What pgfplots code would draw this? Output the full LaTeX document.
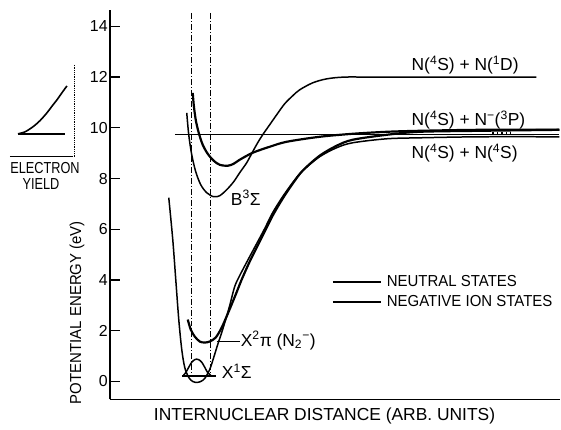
\documentclass[border=0pt]{standalone}
\usepackage{fontspec}
\setmainfont{Liberation Sans}
\newfontfamily\narrow{Liberation Sans}[FakeStretch=0.94]
\newfontfamily\condfont{Liberation Sans}[FakeStretch=0.80]
\usepackage{pgfplots}
\pgfplotsset{compat=1.18}

% Potential energy curves, x in arbitrary units, y in eV
\pgfplotstableread{
x y
169 7.244
173 5.591
176 4.016
179 2.441
182 1.260
185 0.551
189 0.157
193 0.000
197 -0.039
201 0.000
205 0.118
210 0.472
214 0.945
218 1.457
222 1.929
226 2.441
230 2.992
235 3.740
240 4.173
250 4.921
257 5.433
265 6.024
273 6.654
283 7.283
293 7.835
303 8.307
320 8.858
337 9.213
353 9.409
387 9.567
420 9.606
480 9.646
560 9.646
}\groundX

\pgfplotstableread{
x y
188 2.441
191 2.047
195 1.772
200 1.575
205 1.535
210 1.575
216 1.732
222 2.126
229 2.756
236 3.425
242 4.016
250 4.724
257 5.276
265 5.906
273 6.535
283 7.205
293 7.795
303 8.307
320 8.898
337 9.291
353 9.528
387 9.724
420 9.843
480 9.882
560 9.921
}\anionX

\pgfplotstableread{
x y
187 10.591
189 9.724
192 8.937
196 8.268
201 7.756
207 7.441
214 7.283
220 7.323
227 7.559
234 7.874
240 8.228
247 8.622
253 9.055
258 9.409
263 9.724
270 10.118
277 10.512
285 10.945
293 11.260
300 11.496
313 11.772
327 11.929
345 12.000
380 12.000
537 12.000
}\stateB

\pgfplotstableread{
x y
193 11.378
194 10.906
196 10.315
199 9.803
203 9.331
208 8.976
214 8.701
220 8.543
228 8.504
234 8.583
240 8.740
253 9.016
270 9.252
287 9.449
320 9.646
353 9.764
387 9.843
420 9.882
480 9.921
560 9.921
}\resonance

\pgfplotstableread{
x y
183 0.21
186 0.35
189 0.56
192 0.76
195 0.86
197 0.88
199 0.86
202 0.76
205 0.56
208 0.35
212 0.21
}\wavefn

\pgfplotstableread{
x y
18 9.764
25 9.84
33 10.04
40 10.28
47 10.59
52 10.85
57 11.10
62 11.38
67 11.65
}\yieldcurve

\begin{document}
\fontsize{16}{19}\selectfont
\begin{tikzpicture}[lab/.style={inner sep=0pt, font=\fontsize{17.5}{20}\selectfont}]
\begin{axis}[
  scale only axis, width=451bp, height=390bp,
  xmin=110, xmax=561, ymin=-0.709, ymax=14.646,
  axis x line=bottom, axis y line=left,
  axis line style={-, line width=1.5bp},
  xtick=\empty,
  ytick={0,2,...,14},
  tick align=inside,
  major tick length=10bp,
  tick style={line width=1.3bp, black},
  yticklabel style={/pgf/number format/assume math mode=true, inner sep=2bp},
  clip=false,
  xlabel={INTERNUCLEAR DISTANCE (ARB. UNITS)},
  ylabel={POTENTIAL ENERGY (eV)},
  xlabel style={at={(axis description cs:0.4767,-0.0436)}, anchor=center, font=\fontsize{17.5}{20}\selectfont},
  ylabel style={at={(axis description cs:-0.0732,0.223)}, anchor=center, font=\narrow},
  legend style={at={(axis cs:332,4.28)}, anchor=north west, draw=none, fill=none,
     inner sep=0pt, row sep=3bp, column sep=3bp, font=\narrow, nodes={inner sep=2bp}},
  legend cell align=left,
  legend image code/.code={\draw[#1] (0bp,0bp) -- (48bp,0bp);},
  neutral/.style={black, line width=1.5bp, smooth},
  anion/.style={black, line width=2.2bp, smooth},
]
\addplot[neutral] table {\groundX};
\addlegendentry{NEUTRAL STATES}
\addplot[anion] table {\anionX};
\addlegendentry{NEGATIVE ION STATES}
\addplot[neutral, forget plot] table {\stateB};
\addplot[anion, forget plot] table {\resonance};
% dissociation threshold line
\addplot[black, line width=1.1bp, forget plot] coordinates {(175,9.74) (560,9.74)};
% vibrational level and wavefunction
\addplot[black, line width=1.3bp, forget plot] coordinates {(182,0.21) (216,0.21)};
\addplot[neutral, forget plot] table {\wavefn};
% Franck-Condon region
\addplot[black, line width=0.8bp, dash pattern=on 6bp off 2bp on 1bp off 2bp, forget plot] coordinates {(192,14.53) (192,0.2)};
\addplot[black, line width=0.8bp, dash pattern=on 6bp off 2bp on 1bp off 2bp, forget plot] coordinates {(211,14.53) (211,0.2)};
% leader line for X2pi label
\addplot[black, line width=1.1bp, forget plot] coordinates {(217,1.59) (240,1.59)};
% dots between asymptotes
\addplot[black, line width=1.6bp, dash pattern=on 1.5bp off 3bp, forget plot] coordinates {(493,9.80) (512,9.80)};
% electron yield inset
\addplot[black, line width=1.3bp, forget plot] coordinates {(10,8.858) (73,8.858)};
\addplot[black, line width=0.8bp, densely dotted, forget plot] coordinates {(74,12.48) (74,8.858)};
\addplot[black, line width=1.8bp, forget plot] coordinates {(18,9.764) (65,9.764)};
\addplot[black, line width=1.6bp, smooth, forget plot] table {\yieldcurve};

\node[lab, anchor=west] at (axis cs:231,7.24) {B\textsuperscript{3}Σ};
\node[lab, anchor=west] at (axis cs:222,0.39) {X\textsuperscript{1}Σ};
\node[lab, anchor=west] at (axis cs:241,1.61) {X\textsuperscript{2}π (N\textsubscript{2}\textsuperscript{−})};
\node[lab, anchor=base west] at (axis cs:412,12.244) {N(\textsuperscript{4}S) + N(\textsuperscript{1}D)};
\node[lab, anchor=base west] at (axis cs:412,10.079) {N(\textsuperscript{4}S) + N\textsuperscript{−}(\textsuperscript{3}P)};
\node[lab, anchor=base west] at (axis cs:412,8.780) {N(\textsuperscript{4}S) + N(\textsuperscript{4}S)};
\node[inner sep=0pt, font=\condfont] at (axis cs:45,8.425) {ELECTRON};
\node[inner sep=0pt, font=\condfont] at (axis cs:41,7.795) {YIELD};

\coordinate (bbA) at (axis cs:0,-1.693);
\coordinate (bbB) at (axis cs:561,15.039);
\end{axis}
\path (bbA) rectangle (bbB);
\end{tikzpicture}
\end{document}
